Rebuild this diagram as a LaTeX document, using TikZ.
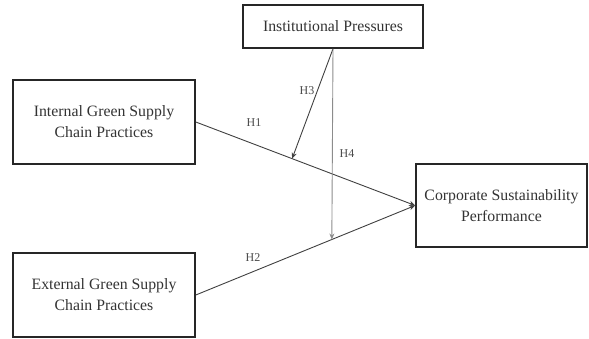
\documentclass[tikz,border=0pt]{standalone}
\usepackage{fontspec}
\setmainfont{Liberation Serif}
\usetikzlibrary{arrows.meta,calc}
\begin{document}
\begin{tikzpicture}[x=1pt,y=-1pt,
  box/.style={draw=black!85,line width=1.6pt,align=center,inner sep=0pt,
    font=\fontsize{15.8}{21}\selectfont,text=black!80},
  conn/.style={draw=black!75,line width=0.9pt,-{Stealth[length=6pt,width=5pt]}},
  hlabel/.style={font=\fontsize{12}{14}\selectfont,text=black!70,inner sep=0pt}]
\useasboundingbox (0,0) rectangle (589,339);
\node[box,minimum width=180pt,minimum height=43pt] (ip) at (333,26.5) {Institutional Pressures};
\node[box,minimum width=182pt,minimum height=84pt] (int) at (104,122) {Internal Green Supply\\Chain Practices};
\node[box,minimum width=182pt,minimum height=84pt] (ext) at (104,295) {External Green Supply\\Chain Practices};
\node[box,minimum width=171pt,minimum height=83pt] (corp) at (501.5,205.5) {Corporate Sustainability\\Performance};
\coordinate (m1) at ($(int.east)!0.439!(corp.west)$);
\coordinate (m2) at ($(ext.east)!0.62!(corp.west)$);
\draw[conn] (int.east) -- (corp.west);
\draw[conn] (ext.east) -- (corp.west);
\draw[conn] (ip.south) -- (m1);
\draw[conn,draw=black!45] (ip.south) -- (m2);
\node[hlabel] (h1) at (254,123) {H1};
\node[hlabel] (h2) at (253,258) {H2};
\node[hlabel] (h3) at (307,91) {H3};
\node[hlabel] (h4) at (347,154) {H4};
\end{tikzpicture}
\end{document}
